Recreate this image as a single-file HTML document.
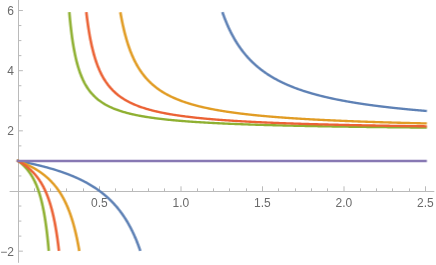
<!DOCTYPE html>
<html><head><meta charset="utf-8"><style>
html,body{margin:0;padding:0;background:#fff;}
svg{display:block}
text{font-family:"Liberation Sans",sans-serif;font-size:12px;fill:#6a6a6a;}
.lb{will-change:transform;filter:grayscale(1)}
.ax line{stroke:#bababa;stroke-width:1;}
.cv path{fill:none;stroke-width:2.35;stroke-linejoin:round;stroke-linecap:butt}
</style></head><body>
<svg width="436" height="265" viewBox="0 0 436 265">
<rect width="436" height="265" fill="#fff"/>
<g class="ax"><line x1="9.6" y1="191.5" x2="434.3" y2="191.5"/><line x1="18.5" y1="0" x2="18.5" y2="262.8"/><line x1="34.5" y1="191.5" x2="34.5" y2="188.4"/><line x1="50.5" y1="191.5" x2="50.5" y2="188.4"/><line x1="66.5" y1="191.5" x2="66.5" y2="188.4"/><line x1="83.5" y1="191.5" x2="83.5" y2="188.4"/><line x1="99.5" y1="191.5" x2="99.5" y2="186.3"/><line x1="115.5" y1="191.5" x2="115.5" y2="188.4"/><line x1="132.5" y1="191.5" x2="132.5" y2="188.4"/><line x1="148.5" y1="191.5" x2="148.5" y2="188.4"/><line x1="164.5" y1="191.5" x2="164.5" y2="188.4"/><line x1="181" y1="191.5" x2="181" y2="186.3"/><line x1="197.5" y1="191.5" x2="197.5" y2="188.4"/><line x1="213.5" y1="191.5" x2="213.5" y2="188.4"/><line x1="229.5" y1="191.5" x2="229.5" y2="188.4"/><line x1="246.5" y1="191.5" x2="246.5" y2="188.4"/><line x1="262.5" y1="191.5" x2="262.5" y2="186.3"/><line x1="278.5" y1="191.5" x2="278.5" y2="188.4"/><line x1="295.5" y1="191.5" x2="295.5" y2="188.4"/><line x1="311.5" y1="191.5" x2="311.5" y2="188.4"/><line x1="327.5" y1="191.5" x2="327.5" y2="188.4"/><line x1="344" y1="191.5" x2="344" y2="186.3"/><line x1="360.5" y1="191.5" x2="360.5" y2="188.4"/><line x1="376.5" y1="191.5" x2="376.5" y2="188.4"/><line x1="392.5" y1="191.5" x2="392.5" y2="188.4"/><line x1="409.5" y1="191.5" x2="409.5" y2="188.4"/><line x1="425.5" y1="191.5" x2="425.5" y2="186.3"/><line x1="18.5" y1="251.16" x2="22.9" y2="251.16"/><line x1="18.5" y1="236.12" x2="21.4" y2="236.12"/><line x1="18.5" y1="221.08" x2="21.4" y2="221.08"/><line x1="18.5" y1="206.04" x2="21.4" y2="206.04"/><line x1="18.5" y1="175.96" x2="21.4" y2="175.96"/><line x1="18.5" y1="160.92" x2="21.4" y2="160.92"/><line x1="18.5" y1="145.88" x2="21.4" y2="145.88"/><line x1="18.5" y1="130.84" x2="22.9" y2="130.84"/><line x1="18.5" y1="115.8" x2="21.4" y2="115.8"/><line x1="18.5" y1="100.76" x2="21.4" y2="100.76"/><line x1="18.5" y1="85.72" x2="21.4" y2="85.72"/><line x1="18.5" y1="70.68" x2="22.9" y2="70.68"/><line x1="18.5" y1="55.64" x2="21.4" y2="55.64"/><line x1="18.5" y1="40.6" x2="21.4" y2="40.6"/><line x1="18.5" y1="25.56" x2="21.4" y2="25.56"/><line x1="18.5" y1="10.52" x2="22.9" y2="10.52"/></g>
<g class="lb"><text x="99.30" y="206.5" text-anchor="middle">0.5</text><text x="180.80" y="206.5" text-anchor="middle">1.0</text><text x="262.30" y="206.5" text-anchor="middle">1.5</text><text x="343.80" y="206.5" text-anchor="middle">2.0</text><text x="425.30" y="206.5" text-anchor="middle">2.5</text><text x="14.0" y="14.50" text-anchor="end">6</text><text x="14.0" y="74.50" text-anchor="end">4</text><text x="14.0" y="134.50" text-anchor="end">2</text><text x="14.0" y="255.50" text-anchor="end">−2</text></g>
<g class="cv" transform="scale(1.12,1)"><path d="M15.067,160.77 L15.436,160.84 L15.805,160.92 L16.173,160.99 L16.542,161.07 L16.911,161.15 L17.279,161.22 L17.648,161.30 L18.017,161.38 L18.385,161.46 L18.754,161.54 L19.123,161.61 L19.491,161.69 L19.860,161.77 L20.229,161.85 L20.597,161.93 L20.966,162.02 L21.335,162.10 L21.703,162.18 L22.072,162.26 L22.441,162.35 L22.809,162.43 L23.178,162.51 L23.547,162.60 L23.915,162.68 L24.284,162.77 L24.652,162.85 L25.021,162.94 L25.390,163.02 L25.758,163.11 L26.127,163.20 L26.496,163.29 L26.864,163.38 L27.233,163.46 L27.602,163.55 L27.970,163.64 L28.339,163.73 L28.708,163.82 L29.076,163.92 L29.445,164.01 L29.814,164.10 L30.182,164.19 L30.551,164.29 L30.920,164.38 L31.288,164.47 L31.657,164.57 L32.026,164.67 L32.394,164.76 L32.763,164.86 L33.132,164.96 L33.500,165.05 L33.869,165.15 L34.238,165.25 L34.606,165.35 L34.975,165.45 L35.344,165.55 L35.712,165.65 L36.081,165.75 L36.450,165.86 L36.818,165.96 L37.187,166.06 L37.556,166.17 L37.924,166.27 L38.293,166.38 L38.662,166.48 L39.030,166.59 L39.399,166.70 L39.768,166.81 L40.136,166.91 L40.505,167.02 L40.874,167.13 L41.242,167.24 L41.611,167.36 L41.980,167.47 L42.348,167.58 L42.717,167.69 L43.086,167.81 L43.454,167.92 L43.823,168.04 L44.192,168.16 L44.560,168.27 L44.929,168.39 L45.298,168.51 L45.666,168.63 L46.035,168.75 L46.404,168.87 L46.772,168.99 L47.141,169.11 L47.510,169.24 L47.878,169.36 L48.247,169.49 L48.616,169.61 L48.984,169.74 L49.353,169.86 L49.722,169.99 L50.090,170.12 L50.459,170.25 L50.828,170.38 L51.196,170.51 L51.565,170.65 L51.933,170.78 L52.302,170.91 L52.671,171.05 L53.039,171.18 L53.408,171.32 L53.777,171.46 L54.145,171.60 L54.514,171.74 L54.883,171.88 L55.251,172.02 L55.620,172.16 L55.989,172.31 L56.357,172.45 L56.726,172.60 L57.095,172.74 L57.463,172.89 L57.832,173.04 L58.201,173.19 L58.569,173.34 L58.938,173.49 L59.307,173.65 L59.675,173.80 L60.044,173.96 L60.413,174.11 L60.781,174.27 L61.150,174.43 L61.519,174.59 L61.887,174.75 L62.256,174.91 L62.625,175.08 L62.993,175.24 L63.362,175.41 L63.731,175.57 L64.099,175.74 L64.468,175.91 L64.837,176.08 L65.205,176.26 L65.574,176.43 L65.943,176.60 L66.311,176.78 L66.680,176.96 L67.049,177.14 L67.417,177.32 L67.786,177.50 L68.155,177.68 L68.523,177.87 L68.892,178.06 L69.261,178.24 L69.629,178.43 L69.998,178.62 L70.367,178.82 L70.735,179.01 L71.104,179.20 L71.473,179.40 L71.841,179.60 L72.210,179.80 L72.579,180.00 L72.947,180.21 L73.316,180.41 L73.685,180.62 L74.053,180.83 L74.422,181.04 L74.791,181.25 L75.159,181.47 L75.528,181.68 L75.897,181.90 L76.265,182.12 L76.634,182.34 L77.003,182.56 L77.371,182.79 L77.740,183.02 L78.109,183.25 L78.477,183.48 L78.846,183.71 L79.214,183.95 L79.583,184.19 L79.952,184.43 L80.320,184.67 L80.689,184.91 L81.058,185.16 L81.426,185.41 L81.795,185.66 L82.164,185.91 L82.532,186.17 L82.901,186.43 L83.270,186.69 L83.638,186.95 L84.007,187.22 L84.376,187.48 L84.744,187.75 L85.113,188.03 L85.482,188.30 L85.850,188.58 L86.219,188.86 L86.588,189.15 L86.956,189.43 L87.325,189.72 L87.694,190.02 L88.062,190.31 L88.431,190.61 L88.800,190.91 L89.168,191.22 L89.537,191.53 L89.906,191.84 L90.274,192.15 L90.643,192.47 L91.012,192.79 L91.380,193.11 L91.749,193.44 L92.118,193.77 L92.486,194.10 L92.855,194.44 L93.224,194.78 L93.592,195.13 L93.961,195.48 L94.330,195.83 L94.698,196.19 L95.067,196.55 L95.436,196.91 L95.804,197.28 L96.173,197.66 L96.542,198.03 L96.910,198.41 L97.279,198.80 L97.648,199.19 L98.016,199.59 L98.385,199.98 L98.754,200.39 L99.122,200.80 L99.491,201.21 L99.860,201.63 L100.228,202.05 L100.597,202.48 L100.966,202.92 L101.334,203.36 L101.703,203.80 L102.072,204.25 L102.440,204.71 L102.809,205.17 L103.178,205.63 L103.546,206.11 L103.915,206.59 L104.284,207.07 L104.652,207.56 L105.021,208.06 L105.390,208.57 L105.758,209.08 L106.127,209.59 L106.495,210.12 L106.864,210.65 L107.233,211.19 L107.601,211.74 L107.970,212.29 L108.339,212.85 L108.707,213.42 L109.076,214.00 L109.445,214.58 L109.813,215.18 L110.182,215.78 L110.551,216.39 L110.919,217.01 L111.288,217.64 L111.657,218.28 L112.025,218.93 L112.394,219.58 L112.763,220.25 L113.131,220.93 L113.500,221.61 L113.869,222.31 L114.237,223.02 L114.606,223.74 L114.975,224.47 L115.343,225.22 L115.712,225.97 L116.081,226.74 L116.449,227.52 L116.818,228.31 L117.187,229.12 L117.555,229.93 L117.924,230.77 L118.293,231.61 L118.661,232.48 L119.030,233.35 L119.399,234.24 L119.767,235.15 L120.136,236.07 L120.505,237.01 L120.873,237.97 L121.242,238.94 L121.611,239.94 L121.979,240.95 L122.348,241.98 L122.717,243.02 L123.085,244.09 L123.454,245.18 L123.823,246.29 L124.191,247.43 L124.560,248.58 L124.929,249.76 L125.297,250.96" stroke="#5E81B5"/><path d="M198.600,12.21 L198.966,13.38 L199.332,14.53 L199.697,15.65 L200.063,16.75 L200.429,17.83 L200.795,18.89 L201.161,19.93 L201.527,20.95 L201.892,21.95 L202.258,22.94 L202.624,23.90 L202.990,24.85 L203.356,25.79 L203.722,26.70 L204.088,27.60 L204.453,28.49 L204.819,29.36 L205.185,30.21 L205.551,31.06 L205.917,31.88 L206.283,32.70 L206.648,33.50 L207.014,34.28 L207.380,35.06 L207.746,35.82 L208.112,36.57 L208.478,37.31 L208.843,38.04 L209.209,38.76 L209.575,39.46 L209.941,40.15 L210.307,40.84 L210.673,41.51 L211.039,42.18 L211.404,42.83 L211.770,43.47 L212.136,44.11 L212.502,44.74 L212.868,45.35 L213.234,45.96 L213.599,46.56 L213.965,47.15 L214.331,47.73 L214.697,48.31 L215.063,48.88 L215.429,49.44 L215.795,49.99 L216.160,50.53 L216.526,51.07 L216.892,51.60 L217.258,52.12 L217.624,52.64 L217.990,53.15 L218.355,53.65 L218.721,54.15 L219.087,54.64 L219.453,55.12 L219.819,55.60 L220.185,56.07 L220.550,56.54 L220.916,57.00 L221.282,57.45 L221.648,57.90 L222.014,58.34 L222.380,58.78 L222.746,59.21 L223.111,59.64 L223.477,60.06 L223.843,60.48 L224.209,60.89 L224.575,61.30 L224.941,61.70 L225.306,62.10 L225.672,62.50 L226.038,62.89 L226.404,63.27 L226.770,63.65 L227.136,64.03 L227.502,64.40 L227.867,64.77 L228.233,65.13 L228.599,65.49 L228.965,65.85 L229.331,66.20 L229.697,66.55 L230.062,66.90 L230.428,67.24 L230.794,67.57 L231.160,67.91 L231.526,68.24 L231.892,68.57 L232.257,68.89 L232.623,69.21 L232.989,69.53 L233.355,69.84 L233.721,70.15 L234.087,70.46 L234.453,70.76 L234.818,71.06 L235.184,71.36 L235.550,71.66 L235.916,71.95 L236.282,72.24 L236.648,72.53 L237.013,72.81 L237.379,73.09 L237.745,73.37 L238.111,73.65 L238.477,73.92 L238.843,74.19 L239.209,74.46 L239.574,74.72 L239.940,74.99 L240.306,75.25 L240.672,75.51 L241.038,75.76 L241.404,76.01 L241.769,76.27 L242.135,76.51 L242.501,76.76 L242.867,77.01 L243.233,77.25 L243.599,77.49 L243.965,77.73 L244.330,77.96 L244.696,78.19 L245.062,78.43 L245.428,78.66 L245.794,78.88 L246.160,79.11 L246.525,79.33 L246.891,79.55 L247.257,79.77 L247.623,79.99 L247.989,80.21 L248.355,80.42 L248.720,80.64 L249.086,80.85 L249.452,81.05 L249.818,81.26 L250.184,81.47 L250.550,81.67 L250.916,81.87 L251.281,82.07 L251.647,82.27 L252.013,82.47 L252.379,82.67 L252.745,82.86 L253.111,83.05 L253.476,83.24 L253.842,83.43 L254.208,83.62 L254.574,83.81 L254.940,83.99 L255.306,84.18 L255.672,84.36 L256.037,84.54 L256.403,84.72 L256.769,84.90 L257.135,85.07 L257.501,85.25 L257.867,85.42 L258.232,85.59 L258.598,85.77 L258.964,85.94 L259.330,86.10 L259.696,86.27 L260.062,86.44 L260.427,86.60 L260.793,86.77 L261.159,86.93 L261.525,87.09 L261.891,87.25 L262.257,87.41 L262.623,87.57 L262.988,87.72 L263.354,87.88 L263.720,88.03 L264.086,88.19 L264.452,88.34 L264.818,88.49 L265.183,88.64 L265.549,88.79 L265.915,88.94 L266.281,89.09 L266.647,89.23 L267.013,89.38 L267.379,89.52 L267.744,89.66 L268.110,89.81 L268.476,89.95 L268.842,90.09 L269.208,90.23 L269.574,90.36 L269.939,90.50 L270.305,90.64 L270.671,90.77 L271.037,90.91 L271.403,91.04 L271.769,91.17 L272.134,91.31 L272.500,91.44 L272.866,91.57 L273.232,91.70 L273.598,91.82 L273.964,91.95 L274.330,92.08 L274.695,92.20 L275.061,92.33 L275.427,92.45 L275.793,92.58 L276.159,92.70 L276.525,92.82 L276.890,92.94 L277.256,93.06 L277.622,93.18 L277.988,93.30 L278.354,93.42 L278.720,93.54 L279.086,93.65 L279.451,93.77 L279.817,93.88 L280.183,94.00 L280.549,94.11 L280.915,94.23 L281.281,94.34 L281.646,94.45 L282.012,94.56 L282.378,94.67 L282.744,94.78 L283.110,94.89 L283.476,95.00 L283.841,95.11 L284.207,95.21 L284.573,95.32 L284.939,95.43 L285.305,95.53 L285.671,95.63 L286.037,95.74 L286.402,95.84 L286.768,95.94 L287.134,96.05 L287.500,96.15 L287.866,96.25 L288.232,96.35 L288.597,96.45 L288.963,96.55 L289.329,96.65 L289.695,96.75 L290.061,96.84 L290.427,96.94 L290.793,97.04 L291.158,97.13 L291.524,97.23 L291.890,97.32 L292.256,97.42 L292.622,97.51 L292.988,97.60 L293.353,97.70 L293.719,97.79 L294.085,97.88 L294.451,97.97 L294.817,98.06 L295.183,98.15 L295.548,98.24 L295.914,98.33 L296.280,98.42 L296.646,98.51 L297.012,98.60 L297.378,98.68 L297.744,98.77 L298.109,98.86 L298.475,98.94 L298.841,99.03 L299.207,99.11 L299.573,99.20 L299.939,99.28 L300.304,99.36 L300.670,99.45 L301.036,99.53 L301.402,99.61 L301.768,99.69 L302.134,99.78 L302.500,99.86 L302.865,99.94 L303.231,100.02 L303.597,100.10 L303.963,100.18 L304.329,100.25 L304.695,100.33 L305.060,100.41 L305.426,100.49 L305.792,100.57 L306.158,100.64 L306.524,100.72 L306.890,100.80 L307.255,100.87 L307.621,100.95 L307.987,101.02 L308.353,101.10 L308.719,101.17 L309.085,101.25 L309.451,101.32 L309.816,101.39 L310.182,101.47 L310.548,101.54 L310.914,101.61 L311.280,101.68 L311.646,101.75 L312.011,101.82 L312.377,101.89 L312.743,101.96 L313.109,102.04 L313.475,102.10 L313.841,102.17 L314.207,102.24 L314.572,102.31 L314.938,102.38 L315.304,102.45 L315.670,102.52 L316.036,102.58 L316.402,102.65 L316.767,102.72 L317.133,102.78 L317.499,102.85 L317.865,102.92 L318.231,102.98 L318.597,103.05 L318.962,103.11 L319.328,103.18 L319.694,103.24 L320.060,103.30 L320.426,103.37 L320.792,103.43 L321.158,103.49 L321.523,103.56 L321.889,103.62 L322.255,103.68 L322.621,103.74 L322.987,103.81 L323.353,103.87 L323.718,103.93 L324.084,103.99 L324.450,104.05 L324.816,104.11 L325.182,104.17 L325.548,104.23 L325.914,104.29 L326.279,104.35 L326.645,104.41 L327.011,104.47 L327.377,104.53 L327.743,104.58 L328.109,104.64 L328.474,104.70 L328.840,104.76 L329.206,104.81 L329.572,104.87 L329.938,104.93 L330.304,104.98 L330.669,105.04 L331.035,105.10 L331.401,105.15 L331.767,105.21 L332.133,105.26 L332.499,105.32 L332.865,105.37 L333.230,105.43 L333.596,105.48 L333.962,105.54 L334.328,105.59 L334.694,105.64 L335.060,105.70 L335.425,105.75 L335.791,105.80 L336.157,105.85 L336.523,105.91 L336.889,105.96 L337.255,106.01 L337.621,106.06 L337.986,106.12 L338.352,106.17 L338.718,106.22 L339.084,106.27 L339.450,106.32 L339.816,106.37 L340.181,106.42 L340.547,106.47 L340.913,106.52 L341.279,106.57 L341.645,106.62 L342.011,106.67 L342.376,106.72 L342.742,106.77 L343.108,106.82 L343.474,106.86 L343.840,106.91 L344.206,106.96 L344.572,107.01 L344.937,107.06 L345.303,107.10 L345.669,107.15 L346.035,107.20 L346.401,107.25 L346.767,107.29 L347.132,107.34 L347.498,107.39 L347.864,107.43 L348.230,107.48 L348.596,107.52 L348.962,107.57 L349.328,107.62 L349.693,107.66 L350.059,107.71 L350.425,107.75 L350.791,107.80 L351.157,107.84 L351.523,107.89 L351.888,107.93 L352.254,107.97 L352.620,108.02 L352.986,108.06 L353.352,108.11 L353.718,108.15 L354.083,108.19 L354.449,108.24 L354.815,108.28 L355.181,108.32 L355.547,108.36 L355.913,108.41 L356.279,108.45 L356.644,108.49 L357.010,108.53 L357.376,108.58 L357.742,108.62 L358.108,108.66 L358.474,108.70 L358.839,108.74 L359.205,108.78 L359.571,108.82 L359.937,108.86 L360.303,108.91 L360.669,108.95 L361.035,108.99 L361.400,109.03 L361.766,109.07 L362.132,109.11 L362.498,109.15 L362.864,109.19 L363.230,109.23 L363.595,109.26 L363.961,109.30 L364.327,109.34 L364.693,109.38 L365.059,109.42 L365.425,109.46 L365.790,109.50 L366.156,109.54 L366.522,109.57 L366.888,109.61 L367.254,109.65 L367.620,109.69 L367.986,109.73 L368.351,109.76 L368.717,109.80 L369.083,109.84 L369.449,109.88 L369.815,109.91 L370.181,109.95 L370.546,109.99 L370.912,110.02 L371.278,110.06 L371.644,110.10 L372.010,110.13 L372.376,110.17 L372.742,110.20 L373.107,110.24 L373.473,110.28 L373.839,110.31 L374.205,110.35 L374.571,110.38 L374.937,110.42 L375.302,110.45 L375.668,110.49 L376.034,110.52 L376.400,110.56 L376.766,110.59 L377.132,110.63 L377.497,110.66 L377.863,110.70 L378.229,110.73 L378.595,110.76 L378.961,110.80 L379.327,110.83 L379.693,110.87 L380.058,110.90 L380.424,110.93 L380.790,110.97 L381.156,111.00" stroke="#5E81B5"/><path d="M15.067,160.52 L15.254,160.59 L15.440,160.67 L15.626,160.74 L15.813,160.82 L15.999,160.89 L16.186,160.97 L16.372,161.05 L16.558,161.13 L16.745,161.20 L16.931,161.28 L17.118,161.36 L17.304,161.44 L17.490,161.52 L17.677,161.60 L17.863,161.68 L18.050,161.76 L18.236,161.84 L18.422,161.92 L18.609,162.00 L18.795,162.09 L18.982,162.17 L19.168,162.25 L19.354,162.34 L19.541,162.42 L19.727,162.51 L19.914,162.59 L20.100,162.68 L20.286,162.76 L20.473,162.85 L20.659,162.94 L20.846,163.02 L21.032,163.11 L21.218,163.20 L21.405,163.29 L21.591,163.38 L21.778,163.47 L21.964,163.56 L22.150,163.65 L22.337,163.74 L22.523,163.83 L22.710,163.93 L22.896,164.02 L23.082,164.11 L23.269,164.21 L23.455,164.30 L23.642,164.40 L23.828,164.49 L24.014,164.59 L24.201,164.68 L24.387,164.78 L24.574,164.88 L24.760,164.98 L24.946,165.08 L25.133,165.18 L25.319,165.28 L25.506,165.38 L25.692,165.48 L25.878,165.58 L26.065,165.68 L26.251,165.79 L26.438,165.89 L26.624,165.99 L26.810,166.10 L26.997,166.21 L27.183,166.31 L27.370,166.42 L27.556,166.53 L27.742,166.63 L27.929,166.74 L28.115,166.85 L28.302,166.96 L28.488,167.07 L28.674,167.19 L28.861,167.30 L29.047,167.41 L29.234,167.52 L29.420,167.64 L29.606,167.75 L29.793,167.87 L29.979,167.99 L30.166,168.10 L30.352,168.22 L30.538,168.34 L30.725,168.46 L30.911,168.58 L31.098,168.70 L31.284,168.82 L31.470,168.95 L31.657,169.07 L31.843,169.19 L32.030,169.32 L32.216,169.45 L32.402,169.57 L32.589,169.70 L32.775,169.83 L32.962,169.96 L33.148,170.09 L33.334,170.22 L33.521,170.35 L33.707,170.48 L33.894,170.62 L34.080,170.75 L34.266,170.89 L34.453,171.02 L34.639,171.16 L34.826,171.30 L35.012,171.44 L35.198,171.58 L35.385,171.72 L35.571,171.86 L35.758,172.01 L35.944,172.15 L36.130,172.29 L36.317,172.44 L36.503,172.59 L36.689,172.74 L36.876,172.89 L37.062,173.04 L37.249,173.19 L37.435,173.34 L37.621,173.49 L37.808,173.65 L37.994,173.81 L38.181,173.96 L38.367,174.12 L38.553,174.28 L38.740,174.44 L38.926,174.60 L39.113,174.77 L39.299,174.93 L39.485,175.10 L39.672,175.26 L39.858,175.43 L40.045,175.60 L40.231,175.77 L40.417,175.94 L40.604,176.12 L40.790,176.29 L40.977,176.47 L41.163,176.64 L41.349,176.82 L41.536,177.00 L41.722,177.18 L41.909,177.37 L42.095,177.55 L42.281,177.74 L42.468,177.92 L42.654,178.11 L42.841,178.30 L43.027,178.49 L43.213,178.69 L43.400,178.88 L43.586,179.08 L43.773,179.28 L43.959,179.48 L44.145,179.68 L44.332,179.88 L44.518,180.09 L44.705,180.29 L44.891,180.50 L45.077,180.71 L45.264,180.93 L45.450,181.14 L45.637,181.35 L45.823,181.57 L46.009,181.79 L46.196,182.01 L46.382,182.24 L46.569,182.46 L46.755,182.69 L46.941,182.92 L47.128,183.15 L47.314,183.38 L47.501,183.62 L47.687,183.86 L47.873,184.10 L48.060,184.34 L48.246,184.58 L48.433,184.83 L48.619,185.08 L48.805,185.33 L48.992,185.58 L49.178,185.84 L49.365,186.09 L49.551,186.35 L49.737,186.62 L49.924,186.88 L50.110,187.15 L50.297,187.42 L50.483,187.69 L50.669,187.97 L50.856,188.25 L51.042,188.53 L51.229,188.81 L51.415,189.10 L51.601,189.39 L51.788,189.68 L51.974,189.98 L52.161,190.28 L52.347,190.58 L52.533,190.88 L52.720,191.19 L52.906,191.50 L53.093,191.82 L53.279,192.13 L53.465,192.45 L53.652,192.78 L53.838,193.11 L54.025,193.44 L54.211,193.77 L54.397,194.11 L54.584,194.45 L54.770,194.80 L54.957,195.15 L55.143,195.50 L55.329,195.86 L55.516,196.22 L55.702,196.58 L55.889,196.95 L56.075,197.33 L56.261,197.70 L56.448,198.08 L56.634,198.47 L56.821,198.86 L57.007,199.26 L57.193,199.66 L57.380,200.06 L57.566,200.47 L57.753,200.89 L57.939,201.31 L58.125,201.73 L58.312,202.16 L58.498,202.59 L58.685,203.03 L58.871,203.48 L59.057,203.93 L59.244,204.39 L59.430,204.85 L59.617,205.32 L59.803,205.79 L59.989,206.27 L60.176,206.76 L60.362,207.25 L60.549,207.75 L60.735,208.26 L60.921,208.77 L61.108,209.29 L61.294,209.82 L61.480,210.35 L61.667,210.89 L61.853,211.44 L62.040,212.00 L62.226,212.56 L62.412,213.13 L62.599,213.71 L62.785,214.30 L62.972,214.90 L63.158,215.50 L63.344,216.12 L63.531,216.74 L63.717,217.37 L63.904,218.01 L64.090,218.66 L64.276,219.32 L64.463,219.99 L64.649,220.67 L64.836,221.37 L65.022,222.07 L65.208,222.78 L65.395,223.51 L65.581,224.24 L65.768,224.99 L65.954,225.75 L66.140,226.52 L66.327,227.31 L66.513,228.10 L66.700,228.92 L66.886,229.74 L67.072,230.58 L67.259,231.43 L67.445,232.30 L67.632,233.18 L67.818,234.08 L68.004,235.00 L68.191,235.93 L68.377,236.88 L68.564,237.84 L68.750,238.82 L68.936,239.82 L69.123,240.84 L69.309,241.88 L69.496,242.94 L69.682,244.02 L69.868,245.12 L70.055,246.24 L70.241,247.39 L70.428,248.55 L70.614,249.74 L70.800,250.96" stroke="#E19C24"/><path d="M107.452,12.21 L108.000,15.65 L108.549,18.89 L109.097,21.95 L109.646,24.85 L110.194,27.60 L110.743,30.21 L111.291,32.69 L111.840,35.05 L112.388,37.30 L112.937,39.45 L113.485,41.50 L114.034,43.46 L114.582,45.34 L115.131,47.14 L115.679,48.86 L116.228,50.52 L116.776,52.11 L117.325,53.64 L117.873,55.11 L118.422,56.52 L118.970,57.89 L119.519,59.20 L120.067,60.47 L120.616,61.69 L121.164,62.87 L121.713,64.02 L122.261,65.12 L122.810,66.19 L123.358,67.22 L123.907,68.22 L124.455,69.20 L125.004,70.14 L125.552,71.05 L126.101,71.94 L126.649,72.80 L127.198,73.63 L127.746,74.44 L128.295,75.23 L128.843,76.00 L129.392,76.75 L129.940,77.47 L130.489,78.18 L131.037,78.87 L131.586,79.54 L132.134,80.19 L132.683,80.83 L133.231,81.45 L133.780,82.06 L134.328,82.65 L134.877,83.23 L135.425,83.79 L135.974,84.34 L136.523,84.88 L137.071,85.41 L137.620,85.92 L138.168,86.43 L138.717,86.92 L139.265,87.40 L139.814,87.87 L140.362,88.33 L140.911,88.78 L141.459,89.22 L142.008,89.65 L142.556,90.07 L143.105,90.49 L143.653,90.89 L144.202,91.29 L144.750,91.68 L145.299,92.07 L145.847,92.44 L146.396,92.81 L146.944,93.17 L147.493,93.52 L148.041,93.87 L148.590,94.21 L149.138,94.55 L149.687,94.88 L150.235,95.20 L150.784,95.52 L151.332,95.83 L151.881,96.14 L152.429,96.44 L152.978,96.73 L153.526,97.02 L154.075,97.31 L154.623,97.59 L155.172,97.87 L155.720,98.14 L156.269,98.41 L156.817,98.67 L157.366,98.93 L157.914,99.19 L158.463,99.44 L159.011,99.68 L159.560,99.93 L160.108,100.17 L160.657,100.40 L161.205,100.63 L161.754,100.86 L162.302,101.09 L162.851,101.31 L163.399,101.53 L163.948,101.74 L164.496,101.95 L165.045,102.16 L165.593,102.37 L166.142,102.57 L166.690,102.77 L167.239,102.97 L167.787,103.17 L168.336,103.36 L168.884,103.55 L169.433,103.73 L169.981,103.92 L170.530,104.10 L171.078,104.28 L171.627,104.46 L172.175,104.63 L172.724,104.80 L173.272,104.97 L173.821,105.14 L174.369,105.31 L174.918,105.47 L175.466,105.63 L176.015,105.79 L176.563,105.95 L177.112,106.11 L177.660,106.26 L178.209,106.41 L178.757,106.56 L179.306,106.71 L179.854,106.86 L180.403,107.00 L180.951,107.14 L181.500,107.28 L182.048,107.42 L182.597,107.56 L183.145,107.70 L183.694,107.83 L184.242,107.97 L184.791,108.10 L185.339,108.23 L185.888,108.36 L186.437,108.48 L186.985,108.61 L187.534,108.73 L188.082,108.86 L188.631,108.98 L189.179,109.10 L189.728,109.22 L190.276,109.33 L190.825,109.45 L191.373,109.57 L191.922,109.68 L192.470,109.79 L193.019,109.90 L193.567,110.01 L194.116,110.12 L194.664,110.23 L195.213,110.34 L195.761,110.45 L196.310,110.55 L196.858,110.65 L197.407,110.76 L197.955,110.86 L198.504,110.96 L199.052,111.06 L199.601,111.16 L200.149,111.25 L200.698,111.35 L201.246,111.45 L201.795,111.54 L202.343,111.64 L202.892,111.73 L203.440,111.82 L203.989,111.91 L204.537,112.00 L205.086,112.09 L205.634,112.18 L206.183,112.27 L206.731,112.36 L207.280,112.44 L207.828,112.53 L208.377,112.61 L208.925,112.70 L209.474,112.78 L210.022,112.86 L210.571,112.94 L211.119,113.02 L211.668,113.10 L212.216,113.18 L212.765,113.26 L213.313,113.34 L213.862,113.42 L214.410,113.49 L214.959,113.57 L215.507,113.64 L216.056,113.72 L216.604,113.79 L217.153,113.87 L217.701,113.94 L218.250,114.01 L218.798,114.08 L219.347,114.15 L219.895,114.22 L220.444,114.29 L220.992,114.36 L221.541,114.43 L222.089,114.50 L222.638,114.57 L223.186,114.63 L223.735,114.70 L224.283,114.77 L224.832,114.83 L225.380,114.90 L225.929,114.96 L226.477,115.03 L227.026,115.09 L227.574,115.15 L228.123,115.21 L228.671,115.28 L229.220,115.34 L229.768,115.40 L230.317,115.46 L230.865,115.52 L231.414,115.58 L231.962,115.64 L232.511,115.69 L233.059,115.75 L233.608,115.81 L234.156,115.87 L234.705,115.92 L235.253,115.98 L235.802,116.04 L236.350,116.09 L236.899,116.15 L237.448,116.20 L237.996,116.26 L238.545,116.31 L239.093,116.36 L239.642,116.42 L240.190,116.47 L240.739,116.52 L241.287,116.57 L241.836,116.62 L242.384,116.68 L242.933,116.73 L243.481,116.78 L244.030,116.83 L244.578,116.88 L245.127,116.93 L245.675,116.98 L246.224,117.02 L246.772,117.07 L247.321,117.12 L247.869,117.17 L248.418,117.22 L248.966,117.26 L249.515,117.31 L250.063,117.36 L250.612,117.40 L251.160,117.45 L251.709,117.49 L252.257,117.54 L252.806,117.58 L253.354,117.63 L253.903,117.67 L254.451,117.72 L255.000,117.76 L255.548,117.80 L256.097,117.85 L256.645,117.89 L257.194,117.93 L257.742,117.97 L258.291,118.02 L258.839,118.06 L259.388,118.10 L259.936,118.14 L260.485,118.18 L261.033,118.22 L261.582,118.26 L262.130,118.30 L262.679,118.34 L263.227,118.38 L263.776,118.42 L264.324,118.46 L264.873,118.50 L265.421,118.54 L265.970,118.58 L266.518,118.62 L267.067,118.65 L267.615,118.69 L268.164,118.73 L268.712,118.77 L269.261,118.80 L269.809,118.84 L270.358,118.88 L270.906,118.91 L271.455,118.95 L272.003,118.98 L272.552,119.02 L273.100,119.06 L273.649,119.09 L274.197,119.13 L274.746,119.16 L275.294,119.20 L275.843,119.23 L276.391,119.26 L276.940,119.30 L277.488,119.33 L278.037,119.37 L278.585,119.40 L279.134,119.43 L279.682,119.47 L280.231,119.50 L280.779,119.53 L281.328,119.56 L281.876,119.60 L282.425,119.63 L282.973,119.66 L283.522,119.69 L284.070,119.72 L284.619,119.76 L285.167,119.79 L285.716,119.82 L286.264,119.85 L286.813,119.88 L287.362,119.91 L287.910,119.94 L288.459,119.97 L289.007,120.00 L289.556,120.03 L290.104,120.06 L290.653,120.09 L291.201,120.12 L291.750,120.15 L292.298,120.18 L292.847,120.21 L293.395,120.24 L293.944,120.26 L294.492,120.29 L295.041,120.32 L295.589,120.35 L296.138,120.38 L296.686,120.41 L297.235,120.43 L297.783,120.46 L298.332,120.49 L298.880,120.52 L299.429,120.54 L299.977,120.57 L300.526,120.60 L301.074,120.62 L301.623,120.65 L302.171,120.68 L302.720,120.70 L303.268,120.73 L303.817,120.76 L304.365,120.78 L304.914,120.81 L305.462,120.83 L306.011,120.86 L306.559,120.88 L307.108,120.91 L307.656,120.93 L308.205,120.96 L308.753,120.98 L309.302,121.01 L309.850,121.03 L310.399,121.06 L310.947,121.08 L311.496,121.11 L312.044,121.13 L312.593,121.16 L313.141,121.18 L313.690,121.20 L314.238,121.23 L314.787,121.25 L315.335,121.27 L315.884,121.30 L316.432,121.32 L316.981,121.34 L317.529,121.37 L318.078,121.39 L318.626,121.41 L319.175,121.44 L319.723,121.46 L320.272,121.48 L320.820,121.50 L321.369,121.52 L321.917,121.55 L322.466,121.57 L323.014,121.59 L323.563,121.61 L324.111,121.63 L324.660,121.66 L325.208,121.68 L325.757,121.70 L326.305,121.72 L326.854,121.74 L327.402,121.76 L327.951,121.78 L328.499,121.81 L329.048,121.83 L329.596,121.85 L330.145,121.87 L330.693,121.89 L331.242,121.91 L331.790,121.93 L332.339,121.95 L332.887,121.97 L333.436,121.99 L333.984,122.01 L334.533,122.03 L335.081,122.05 L335.630,122.07 L336.178,122.09 L336.727,122.11 L337.276,122.13 L337.824,122.15 L338.373,122.17 L338.921,122.19 L339.470,122.21 L340.018,122.22 L340.567,122.24 L341.115,122.26 L341.664,122.28 L342.212,122.30 L342.761,122.32 L343.309,122.34 L343.858,122.36 L344.406,122.37 L344.955,122.39 L345.503,122.41 L346.052,122.43 L346.600,122.45 L347.149,122.47 L347.697,122.48 L348.246,122.50 L348.794,122.52 L349.343,122.54 L349.891,122.55 L350.440,122.57 L350.988,122.59 L351.537,122.61 L352.085,122.62 L352.634,122.64 L353.182,122.66 L353.731,122.68 L354.279,122.69 L354.828,122.71 L355.376,122.73 L355.925,122.74 L356.473,122.76 L357.022,122.78 L357.570,122.79 L358.119,122.81 L358.667,122.83 L359.216,122.84 L359.764,122.86 L360.313,122.88 L360.861,122.89 L361.410,122.91 L361.958,122.93 L362.507,122.94 L363.055,122.96 L363.604,122.97 L364.152,122.99 L364.701,123.00 L365.249,123.02 L365.798,123.04 L366.346,123.05 L366.895,123.07 L367.443,123.08 L367.992,123.10 L368.540,123.11 L369.089,123.13 L369.637,123.14 L370.186,123.16 L370.734,123.17 L371.283,123.19 L371.831,123.20 L372.380,123.22 L372.928,123.23 L373.477,123.25 L374.025,123.26 L374.574,123.28 L375.122,123.29 L375.671,123.31 L376.219,123.32 L376.768,123.34 L377.316,123.35 L377.865,123.37 L378.413,123.38 L378.962,123.40 L379.510,123.41 L380.059,123.42 L380.607,123.44 L381.156,123.45" stroke="#E19C24"/><path d="M15.067,160.03 L15.163,160.10 L15.258,160.18 L15.353,160.25 L15.448,160.33 L15.544,160.40 L15.639,160.48 L15.734,160.56 L15.829,160.63 L15.925,160.71 L16.020,160.79 L16.115,160.86 L16.210,160.94 L16.306,161.02 L16.401,161.10 L16.496,161.18 L16.592,161.26 L16.687,161.34 L16.782,161.42 L16.877,161.50 L16.973,161.58 L17.068,161.67 L17.163,161.75 L17.258,161.83 L17.354,161.91 L17.449,162.00 L17.544,162.08 L17.639,162.17 L17.735,162.25 L17.830,162.34 L17.925,162.42 L18.021,162.51 L18.116,162.60 L18.211,162.69 L18.306,162.77 L18.402,162.86 L18.497,162.95 L18.592,163.04 L18.687,163.13 L18.783,163.22 L18.878,163.31 L18.973,163.40 L19.068,163.50 L19.164,163.59 L19.259,163.68 L19.354,163.77 L19.450,163.87 L19.545,163.96 L19.640,164.06 L19.735,164.15 L19.831,164.25 L19.926,164.35 L20.021,164.45 L20.116,164.54 L20.212,164.64 L20.307,164.74 L20.402,164.84 L20.497,164.94 L20.593,165.04 L20.688,165.14 L20.783,165.25 L20.879,165.35 L20.974,165.45 L21.069,165.56 L21.164,165.66 L21.260,165.77 L21.355,165.87 L21.450,165.98 L21.545,166.09 L21.641,166.19 L21.736,166.30 L21.831,166.41 L21.926,166.52 L22.022,166.63 L22.117,166.74 L22.212,166.86 L22.308,166.97 L22.403,167.08 L22.498,167.20 L22.593,167.31 L22.689,167.43 L22.784,167.54 L22.879,167.66 L22.974,167.78 L23.070,167.90 L23.165,168.02 L23.260,168.14 L23.355,168.26 L23.451,168.38 L23.546,168.50 L23.641,168.62 L23.737,168.75 L23.832,168.87 L23.927,169.00 L24.022,169.13 L24.118,169.25 L24.213,169.38 L24.308,169.51 L24.403,169.64 L24.499,169.77 L24.594,169.90 L24.689,170.04 L24.784,170.17 L24.880,170.30 L24.975,170.44 L25.070,170.58 L25.166,170.71 L25.261,170.85 L25.356,170.99 L25.451,171.13 L25.547,171.27 L25.642,171.41 L25.737,171.56 L25.832,171.70 L25.928,171.85 L26.023,171.99 L26.118,172.14 L26.213,172.29 L26.309,172.44 L26.404,172.59 L26.499,172.74 L26.595,172.89 L26.690,173.05 L26.785,173.20 L26.880,173.36 L26.976,173.52 L27.071,173.67 L27.166,173.83 L27.261,173.99 L27.357,174.16 L27.452,174.32 L27.547,174.48 L27.642,174.65 L27.738,174.82 L27.833,174.99 L27.928,175.16 L28.024,175.33 L28.119,175.50 L28.214,175.67 L28.309,175.85 L28.405,176.02 L28.500,176.20 L28.595,176.38 L28.690,176.56 L28.786,176.74 L28.881,176.93 L28.976,177.11 L29.071,177.30 L29.167,177.49 L29.262,177.68 L29.357,177.87 L29.453,178.06 L29.548,178.25 L29.643,178.45 L29.738,178.65 L29.834,178.85 L29.929,179.05 L30.024,179.25 L30.119,179.45 L30.215,179.66 L30.310,179.87 L30.405,180.08 L30.500,180.29 L30.596,180.50 L30.691,180.71 L30.786,180.93 L30.882,181.15 L30.977,181.37 L31.072,181.59 L31.167,181.82 L31.263,182.04 L31.358,182.27 L31.453,182.50 L31.548,182.74 L31.644,182.97 L31.739,183.21 L31.834,183.45 L31.929,183.69 L32.025,183.93 L32.120,184.18 L32.215,184.42 L32.311,184.68 L32.406,184.93 L32.501,185.18 L32.596,185.44 L32.692,185.70 L32.787,185.96 L32.882,186.23 L32.977,186.50 L33.073,186.77 L33.168,187.04 L33.263,187.31 L33.358,187.59 L33.454,187.87 L33.549,188.16 L33.644,188.44 L33.740,188.73 L33.835,189.02 L33.930,189.32 L34.025,189.62 L34.121,189.92 L34.216,190.22 L34.311,190.53 L34.406,190.84 L34.502,191.16 L34.597,191.47 L34.692,191.80 L34.787,192.12 L34.883,192.45 L34.978,192.78 L35.073,193.11 L35.169,193.45 L35.264,193.79 L35.359,194.14 L35.454,194.49 L35.550,194.84 L35.645,195.20 L35.740,195.56 L35.835,195.93 L35.931,196.30 L36.026,196.67 L36.121,197.05 L36.216,197.43 L36.312,197.82 L36.407,198.21 L36.502,198.61 L36.598,199.01 L36.693,199.42 L36.788,199.83 L36.883,200.24 L36.979,200.67 L37.074,201.09 L37.169,201.52 L37.264,201.96 L37.360,202.40 L37.455,202.85 L37.550,203.30 L37.645,203.76 L37.741,204.23 L37.836,204.70 L37.931,205.17 L38.027,205.66 L38.122,206.15 L38.217,206.64 L38.312,207.14 L38.408,207.65 L38.503,208.17 L38.598,208.69 L38.693,209.22 L38.789,209.76 L38.884,210.31 L38.979,210.86 L39.074,211.42 L39.170,211.99 L39.265,212.56 L39.360,213.15 L39.456,213.74 L39.551,214.34 L39.646,214.95 L39.741,215.57 L39.837,216.20 L39.932,216.84 L40.027,217.48 L40.122,218.14 L40.218,218.81 L40.313,219.49 L40.408,220.18 L40.503,220.87 L40.599,221.58 L40.694,222.31 L40.789,223.04 L40.885,223.78 L40.980,224.54 L41.075,225.31 L41.170,226.09 L41.266,226.89 L41.361,227.70 L41.456,228.52 L41.551,229.35 L41.647,230.21 L41.742,231.07 L41.837,231.95 L41.932,232.85 L42.028,233.76 L42.123,234.69 L42.218,235.64 L42.314,236.60 L42.409,237.58 L42.504,238.58 L42.599,239.60 L42.695,240.64 L42.790,241.70 L42.885,242.78 L42.980,243.88 L43.076,245.00 L43.171,246.14 L43.266,247.31 L43.361,248.50 L43.457,249.72 L43.552,250.96" stroke="#8FB032"/><path d="M61.878,12.21 L62.517,19.92 L63.157,26.69 L63.797,32.69 L64.437,38.03 L65.077,42.82 L65.717,47.14 L66.356,51.05 L66.996,54.62 L67.636,57.88 L68.276,60.88 L68.916,63.63 L69.556,66.18 L70.196,68.55 L70.835,70.74 L71.475,72.79 L72.115,74.71 L72.755,76.50 L73.395,78.18 L74.035,79.76 L74.674,81.24 L75.314,82.65 L75.954,83.98 L76.594,85.23 L77.234,86.42 L77.874,87.55 L78.513,88.63 L79.153,89.65 L79.793,90.62 L80.433,91.55 L81.073,92.44 L81.713,93.29 L82.352,94.10 L82.992,94.87 L83.632,95.62 L84.272,96.33 L84.912,97.02 L85.552,97.68 L86.191,98.32 L86.831,98.93 L87.471,99.52 L88.111,100.08 L88.751,100.63 L89.391,101.16 L90.030,101.67 L90.670,102.16 L91.310,102.64 L91.950,103.10 L92.590,103.54 L93.230,103.98 L93.869,104.40 L94.509,104.80 L95.149,105.19 L95.789,105.58 L96.429,105.95 L97.069,106.31 L97.708,106.66 L98.348,107.00 L98.988,107.33 L99.628,107.65 L100.268,107.96 L100.908,108.27 L101.547,108.56 L102.187,108.85 L102.827,109.14 L103.467,109.41 L104.107,109.68 L104.747,109.94 L105.387,110.19 L106.026,110.44 L106.666,110.69 L107.306,110.92 L107.946,111.15 L108.586,111.38 L109.226,111.60 L109.865,111.82 L110.505,112.03 L111.145,112.24 L111.785,112.44 L112.425,112.64 L113.065,112.83 L113.704,113.02 L114.344,113.21 L114.984,113.39 L115.624,113.57 L116.264,113.74 L116.904,113.91 L117.543,114.08 L118.183,114.25 L118.823,114.41 L119.463,114.57 L120.103,114.72 L120.743,114.87 L121.382,115.02 L122.022,115.17 L122.662,115.31 L123.302,115.46 L123.942,115.59 L124.582,115.73 L125.221,115.87 L125.861,116.00 L126.501,116.13 L127.141,116.25 L127.781,116.38 L128.421,116.50 L129.060,116.62 L129.700,116.74 L130.340,116.86 L130.980,116.97 L131.620,117.09 L132.260,117.20 L132.899,117.31 L133.539,117.42 L134.179,117.52 L134.819,117.63 L135.459,117.73 L136.099,117.83 L136.738,117.93 L137.378,118.03 L138.018,118.13 L138.658,118.22 L139.298,118.31 L139.938,118.41 L140.578,118.50 L141.217,118.59 L141.857,118.68 L142.497,118.76 L143.137,118.85 L143.777,118.94 L144.417,119.02 L145.056,119.10 L145.696,119.18 L146.336,119.26 L146.976,119.34 L147.616,119.42 L148.256,119.50 L148.895,119.57 L149.535,119.65 L150.175,119.72 L150.815,119.80 L151.455,119.87 L152.095,119.94 L152.734,120.01 L153.374,120.08 L154.014,120.15 L154.654,120.22 L155.294,120.28 L155.934,120.35 L156.573,120.41 L157.213,120.48 L157.853,120.54 L158.493,120.60 L159.133,120.67 L159.773,120.73 L160.412,120.79 L161.052,120.85 L161.692,120.91 L162.332,120.97 L162.972,121.02 L163.612,121.08 L164.251,121.14 L164.891,121.19 L165.531,121.25 L166.171,121.30 L166.811,121.36 L167.451,121.41 L168.090,121.46 L168.730,121.52 L169.370,121.57 L170.010,121.62 L170.650,121.67 L171.290,121.72 L171.929,121.77 L172.569,121.82 L173.209,121.87 L173.849,121.91 L174.489,121.96 L175.129,122.01 L175.768,122.06 L176.408,122.10 L177.048,122.15 L177.688,122.19 L178.328,122.24 L178.968,122.28 L179.608,122.32 L180.247,122.37 L180.887,122.41 L181.527,122.45 L182.167,122.49 L182.807,122.54 L183.447,122.58 L184.086,122.62 L184.726,122.66 L185.366,122.70 L186.006,122.74 L186.646,122.78 L187.286,122.82 L187.925,122.85 L188.565,122.89 L189.205,122.93 L189.845,122.97 L190.485,123.00 L191.125,123.04 L191.764,123.08 L192.404,123.11 L193.044,123.15 L193.684,123.18 L194.324,123.22 L194.964,123.25 L195.603,123.29 L196.243,123.32 L196.883,123.36 L197.523,123.39 L198.163,123.42 L198.803,123.46 L199.442,123.49 L200.082,123.52 L200.722,123.55 L201.362,123.58 L202.002,123.62 L202.642,123.65 L203.281,123.68 L203.921,123.71 L204.561,123.74 L205.201,123.77 L205.841,123.80 L206.481,123.83 L207.120,123.86 L207.760,123.89 L208.400,123.92 L209.040,123.95 L209.680,123.97 L210.320,124.00 L210.959,124.03 L211.599,124.06 L212.239,124.09 L212.879,124.11 L213.519,124.14 L214.159,124.17 L214.799,124.19 L215.438,124.22 L216.078,124.25 L216.718,124.27 L217.358,124.30 L217.998,124.32 L218.638,124.35 L219.277,124.38 L219.917,124.40 L220.557,124.43 L221.197,124.45 L221.837,124.47 L222.477,124.50 L223.116,124.52 L223.756,124.55 L224.396,124.57 L225.036,124.59 L225.676,124.62 L226.316,124.64 L226.955,124.66 L227.595,124.69 L228.235,124.71 L228.875,124.73 L229.515,124.76 L230.155,124.78 L230.794,124.80 L231.434,124.82 L232.074,124.84 L232.714,124.87 L233.354,124.89 L233.994,124.91 L234.633,124.93 L235.273,124.95 L235.913,124.97 L236.553,124.99 L237.193,125.01 L237.833,125.03 L238.472,125.05 L239.112,125.07 L239.752,125.09 L240.392,125.11 L241.032,125.13 L241.672,125.15 L242.311,125.17 L242.951,125.19 L243.591,125.21 L244.231,125.23 L244.871,125.25 L245.511,125.27 L246.150,125.29 L246.790,125.31 L247.430,125.32 L248.070,125.34 L248.710,125.36 L249.350,125.38 L249.990,125.40 L250.629,125.41 L251.269,125.43 L251.909,125.45 L252.549,125.47 L253.189,125.49 L253.829,125.50 L254.468,125.52 L255.108,125.54 L255.748,125.55 L256.388,125.57 L257.028,125.59 L257.668,125.60 L258.307,125.62 L258.947,125.64 L259.587,125.65 L260.227,125.67 L260.867,125.69 L261.507,125.70 L262.146,125.72 L262.786,125.73 L263.426,125.75 L264.066,125.77 L264.706,125.78 L265.346,125.80 L265.985,125.81 L266.625,125.83 L267.265,125.84 L267.905,125.86 L268.545,125.87 L269.185,125.89 L269.824,125.90 L270.464,125.92 L271.104,125.93 L271.744,125.95 L272.384,125.96 L273.024,125.98 L273.663,125.99 L274.303,126.01 L274.943,126.02 L275.583,126.03 L276.223,126.05 L276.863,126.06 L277.502,126.08 L278.142,126.09 L278.782,126.10 L279.422,126.12 L280.062,126.13 L280.702,126.14 L281.341,126.16 L281.981,126.17 L282.621,126.18 L283.261,126.20 L283.901,126.21 L284.541,126.22 L285.180,126.24 L285.820,126.25 L286.460,126.26 L287.100,126.27 L287.740,126.29 L288.380,126.30 L289.020,126.31 L289.659,126.32 L290.299,126.34 L290.939,126.35 L291.579,126.36 L292.219,126.37 L292.859,126.39 L293.498,126.40 L294.138,126.41 L294.778,126.42 L295.418,126.43 L296.058,126.45 L296.698,126.46 L297.337,126.47 L297.977,126.48 L298.617,126.49 L299.257,126.50 L299.897,126.52 L300.537,126.53 L301.176,126.54 L301.816,126.55 L302.456,126.56 L303.096,126.57 L303.736,126.58 L304.376,126.59 L305.015,126.61 L305.655,126.62 L306.295,126.63 L306.935,126.64 L307.575,126.65 L308.215,126.66 L308.854,126.67 L309.494,126.68 L310.134,126.69 L310.774,126.70 L311.414,126.71 L312.054,126.72 L312.693,126.73 L313.333,126.74 L313.973,126.75 L314.613,126.76 L315.253,126.77 L315.893,126.78 L316.532,126.79 L317.172,126.80 L317.812,126.81 L318.452,126.82 L319.092,126.83 L319.732,126.84 L320.371,126.85 L321.011,126.86 L321.651,126.87 L322.291,126.88 L322.931,126.89 L323.571,126.90 L324.211,126.91 L324.850,126.92 L325.490,126.93 L326.130,126.94 L326.770,126.95 L327.410,126.96 L328.050,126.97 L328.689,126.98 L329.329,126.99 L329.969,127.00 L330.609,127.00 L331.249,127.01 L331.889,127.02 L332.528,127.03 L333.168,127.04 L333.808,127.05 L334.448,127.06 L335.088,127.07 L335.728,127.08 L336.367,127.08 L337.007,127.09 L337.647,127.10 L338.287,127.11 L338.927,127.12 L339.567,127.13 L340.206,127.14 L340.846,127.14 L341.486,127.15 L342.126,127.16 L342.766,127.17 L343.406,127.18 L344.045,127.19 L344.685,127.19 L345.325,127.20 L345.965,127.21 L346.605,127.22 L347.245,127.23 L347.884,127.24 L348.524,127.24 L349.164,127.25 L349.804,127.26 L350.444,127.27 L351.084,127.27 L351.723,127.28 L352.363,127.29 L353.003,127.30 L353.643,127.31 L354.283,127.31 L354.923,127.32 L355.562,127.33 L356.202,127.34 L356.842,127.34 L357.482,127.35 L358.122,127.36 L358.762,127.37 L359.402,127.37 L360.041,127.38 L360.681,127.39 L361.321,127.40 L361.961,127.40 L362.601,127.41 L363.241,127.42 L363.880,127.43 L364.520,127.43 L365.160,127.44 L365.800,127.45 L366.440,127.45 L367.080,127.46 L367.719,127.47 L368.359,127.48 L368.999,127.48 L369.639,127.49 L370.279,127.50 L370.919,127.50 L371.558,127.51 L372.198,127.52 L372.838,127.52 L373.478,127.53 L374.118,127.54 L374.758,127.54 L375.397,127.55 L376.037,127.56 L376.677,127.56 L377.317,127.57 L377.957,127.58 L378.597,127.58 L379.236,127.59 L379.876,127.60 L380.516,127.60 L381.156,127.61" stroke="#8FB032"/><path d="M15.067,160.27 L15.193,160.35 L15.319,160.42 L15.444,160.50 L15.570,160.57 L15.695,160.65 L15.821,160.72 L15.947,160.80 L16.072,160.88 L16.198,160.95 L16.324,161.03 L16.449,161.11 L16.575,161.19 L16.701,161.27 L16.826,161.35 L16.952,161.43 L17.078,161.51 L17.203,161.59 L17.329,161.67 L17.455,161.75 L17.580,161.83 L17.706,161.92 L17.831,162.00 L17.957,162.08 L18.083,162.17 L18.208,162.25 L18.334,162.33 L18.460,162.42 L18.585,162.51 L18.711,162.59 L18.837,162.68 L18.962,162.77 L19.088,162.85 L19.214,162.94 L19.339,163.03 L19.465,163.12 L19.590,163.21 L19.716,163.30 L19.842,163.39 L19.967,163.48 L20.093,163.57 L20.219,163.66 L20.344,163.75 L20.470,163.85 L20.596,163.94 L20.721,164.04 L20.847,164.13 L20.973,164.23 L21.098,164.32 L21.224,164.42 L21.349,164.51 L21.475,164.61 L21.601,164.71 L21.726,164.81 L21.852,164.91 L21.978,165.01 L22.103,165.11 L22.229,165.21 L22.355,165.31 L22.480,165.41 L22.606,165.51 L22.732,165.62 L22.857,165.72 L22.983,165.83 L23.108,165.93 L23.234,166.04 L23.360,166.14 L23.485,166.25 L23.611,166.36 L23.737,166.47 L23.862,166.58 L23.988,166.69 L24.114,166.80 L24.239,166.91 L24.365,167.02 L24.491,167.13 L24.616,167.24 L24.742,167.36 L24.868,167.47 L24.993,167.59 L25.119,167.70 L25.244,167.82 L25.370,167.94 L25.496,168.06 L25.621,168.18 L25.747,168.30 L25.873,168.42 L25.998,168.54 L26.124,168.66 L26.250,168.78 L26.375,168.91 L26.501,169.03 L26.627,169.16 L26.752,169.28 L26.878,169.41 L27.003,169.54 L27.129,169.67 L27.255,169.80 L27.380,169.93 L27.506,170.06 L27.632,170.19 L27.757,170.32 L27.883,170.46 L28.009,170.59 L28.134,170.73 L28.260,170.87 L28.386,171.00 L28.511,171.14 L28.637,171.28 L28.762,171.42 L28.888,171.57 L29.014,171.71 L29.139,171.85 L29.265,172.00 L29.391,172.14 L29.516,172.29 L29.642,172.44 L29.768,172.59 L29.893,172.74 L30.019,172.89 L30.145,173.04 L30.270,173.19 L30.396,173.35 L30.521,173.50 L30.647,173.66 L30.773,173.82 L30.898,173.98 L31.024,174.14 L31.150,174.30 L31.275,174.46 L31.401,174.62 L31.527,174.79 L31.652,174.95 L31.778,175.12 L31.904,175.29 L32.029,175.46 L32.155,175.63 L32.280,175.80 L32.406,175.98 L32.532,176.15 L32.657,176.33 L32.783,176.51 L32.909,176.69 L33.034,176.87 L33.160,177.05 L33.286,177.24 L33.411,177.42 L33.537,177.61 L33.663,177.80 L33.788,177.99 L33.914,178.18 L34.040,178.37 L34.165,178.57 L34.291,178.76 L34.416,178.96 L34.542,179.16 L34.668,179.36 L34.793,179.56 L34.919,179.77 L35.045,179.97 L35.170,180.18 L35.296,180.39 L35.422,180.60 L35.547,180.82 L35.673,181.03 L35.799,181.25 L35.924,181.47 L36.050,181.69 L36.175,181.91 L36.301,182.14 L36.427,182.36 L36.552,182.59 L36.678,182.82 L36.804,183.06 L36.929,183.29 L37.055,183.53 L37.181,183.77 L37.306,184.01 L37.432,184.25 L37.558,184.50 L37.683,184.75 L37.809,185.00 L37.934,185.25 L38.060,185.51 L38.186,185.77 L38.311,186.03 L38.437,186.29 L38.563,186.55 L38.688,186.82 L38.814,187.09 L38.940,187.36 L39.065,187.64 L39.191,187.92 L39.317,188.20 L39.442,188.48 L39.568,188.77 L39.693,189.06 L39.819,189.35 L39.945,189.65 L40.070,189.95 L40.196,190.25 L40.322,190.55 L40.447,190.86 L40.573,191.17 L40.699,191.48 L40.824,191.80 L40.950,192.12 L41.076,192.45 L41.201,192.77 L41.327,193.11 L41.452,193.44 L41.578,193.78 L41.704,194.12 L41.829,194.47 L41.955,194.82 L42.081,195.17 L42.206,195.53 L42.332,195.89 L42.458,196.25 L42.583,196.62 L42.709,197.00 L42.835,197.38 L42.960,197.76 L43.086,198.15 L43.212,198.54 L43.337,198.93 L43.463,199.33 L43.588,199.74 L43.714,200.15 L43.840,200.56 L43.965,200.98 L44.091,201.41 L44.217,201.84 L44.342,202.28 L44.468,202.72 L44.594,203.16 L44.719,203.62 L44.845,204.07 L44.971,204.54 L45.096,205.01 L45.222,205.48 L45.347,205.96 L45.473,206.45 L45.599,206.95 L45.724,207.45 L45.850,207.96 L45.976,208.47 L46.101,208.99 L46.227,209.52 L46.353,210.06 L46.478,210.60 L46.604,211.15 L46.730,211.71 L46.855,212.27 L46.981,212.85 L47.106,213.43 L47.232,214.02 L47.358,214.62 L47.483,215.23 L47.609,215.84 L47.735,216.47 L47.860,217.10 L47.986,217.75 L48.112,218.40 L48.237,219.07 L48.363,219.74 L48.489,220.42 L48.614,221.12 L48.740,221.83 L48.865,222.54 L48.991,223.27 L49.117,224.01 L49.242,224.76 L49.368,225.53 L49.494,226.31 L49.619,227.10 L49.745,227.90 L49.871,228.72 L49.996,229.55 L50.122,230.39 L50.248,231.25 L50.373,232.13 L50.499,233.02 L50.624,233.92 L50.750,234.84 L50.876,235.78 L51.001,236.74 L51.127,237.71 L51.253,238.70 L51.378,239.71 L51.504,240.74 L51.630,241.79 L51.755,242.86 L51.881,243.95 L52.007,245.06 L52.132,246.19 L52.258,247.35 L52.384,248.53 L52.509,249.73 L52.635,250.96" stroke="#EB6235"/><path d="M77.069,12.21 L77.678,17.83 L78.288,22.93 L78.897,27.60 L79.507,31.87 L80.116,35.81 L80.725,39.45 L81.335,42.82 L81.944,45.95 L82.554,48.86 L83.163,51.58 L83.772,54.13 L84.382,56.52 L84.991,58.76 L85.601,60.88 L86.210,62.87 L86.819,64.75 L87.429,66.53 L88.038,68.22 L88.647,69.82 L89.257,71.35 L89.866,72.79 L90.476,74.17 L91.085,75.49 L91.694,76.74 L92.304,77.94 L92.913,79.09 L93.523,80.19 L94.132,81.25 L94.741,82.26 L95.351,83.23 L95.960,84.16 L96.570,85.06 L97.179,85.92 L97.788,86.75 L98.398,87.55 L99.007,88.33 L99.617,89.07 L100.226,89.79 L100.835,90.49 L101.445,91.16 L102.054,91.81 L102.663,92.44 L103.273,93.05 L103.882,93.64 L104.492,94.21 L105.101,94.77 L105.710,95.31 L106.320,95.83 L106.929,96.34 L107.539,96.83 L108.148,97.31 L108.757,97.77 L109.367,98.23 L109.976,98.67 L110.586,99.10 L111.195,99.52 L111.804,99.92 L112.414,100.32 L113.023,100.71 L113.633,101.08 L114.242,101.45 L114.851,101.81 L115.461,102.16 L116.070,102.50 L116.680,102.84 L117.289,103.16 L117.898,103.48 L118.508,103.79 L119.117,104.10 L119.726,104.40 L120.336,104.69 L120.945,104.97 L121.555,105.25 L122.164,105.52 L122.773,105.79 L123.383,106.05 L123.992,106.31 L124.602,106.56 L125.211,106.81 L125.820,107.05 L126.430,107.28 L127.039,107.51 L127.649,107.74 L128.258,107.96 L128.867,108.18 L129.477,108.40 L130.086,108.61 L130.696,108.81 L131.305,109.02 L131.914,109.22 L132.524,109.41 L133.133,109.60 L133.743,109.79 L134.352,109.98 L134.961,110.16 L135.571,110.34 L136.180,110.51 L136.789,110.69 L137.399,110.86 L138.008,111.02 L138.618,111.19 L139.227,111.35 L139.836,111.51 L140.446,111.67 L141.055,111.82 L141.665,111.97 L142.274,112.12 L142.883,112.27 L143.493,112.41 L144.102,112.55 L144.712,112.69 L145.321,112.83 L145.930,112.97 L146.540,113.10 L147.149,113.23 L147.759,113.36 L148.368,113.49 L148.977,113.62 L149.587,113.74 L150.196,113.87 L150.806,113.99 L151.415,114.11 L152.024,114.22 L152.634,114.34 L153.243,114.45 L153.852,114.57 L154.462,114.68 L155.071,114.79 L155.681,114.90 L156.290,115.00 L156.899,115.11 L157.509,115.21 L158.118,115.31 L158.728,115.42 L159.337,115.52 L159.946,115.61 L160.556,115.71 L161.165,115.81 L161.775,115.90 L162.384,116.00 L162.993,116.09 L163.603,116.18 L164.212,116.27 L164.822,116.36 L165.431,116.45 L166.040,116.54 L166.650,116.62 L167.259,116.71 L167.869,116.79 L168.478,116.88 L169.087,116.96 L169.697,117.04 L170.306,117.12 L170.915,117.20 L171.525,117.28 L172.134,117.35 L172.744,117.43 L173.353,117.51 L173.962,117.58 L174.572,117.66 L175.181,117.73 L175.791,117.80 L176.400,117.87 L177.009,117.95 L177.619,118.02 L178.228,118.08 L178.838,118.15 L179.447,118.22 L180.056,118.29 L180.666,118.36 L181.275,118.42 L181.885,118.49 L182.494,118.55 L183.103,118.61 L183.713,118.68 L184.322,118.74 L184.932,118.80 L185.541,118.86 L186.150,118.92 L186.760,118.98 L187.369,119.04 L187.978,119.10 L188.588,119.16 L189.197,119.22 L189.807,119.28 L190.416,119.33 L191.025,119.39 L191.635,119.44 L192.244,119.50 L192.854,119.55 L193.463,119.61 L194.072,119.66 L194.682,119.71 L195.291,119.77 L195.901,119.82 L196.510,119.87 L197.119,119.92 L197.729,119.97 L198.338,120.02 L198.948,120.07 L199.557,120.12 L200.166,120.17 L200.776,120.22 L201.385,120.26 L201.994,120.31 L202.604,120.36 L203.213,120.40 L203.823,120.45 L204.432,120.50 L205.041,120.54 L205.651,120.59 L206.260,120.63 L206.870,120.68 L207.479,120.72 L208.088,120.76 L208.698,120.81 L209.307,120.85 L209.917,120.89 L210.526,120.93 L211.135,120.98 L211.745,121.02 L212.354,121.06 L212.964,121.10 L213.573,121.14 L214.182,121.18 L214.792,121.22 L215.401,121.26 L216.011,121.30 L216.620,121.34 L217.229,121.37 L217.839,121.41 L218.448,121.45 L219.057,121.49 L219.667,121.52 L220.276,121.56 L220.886,121.60 L221.495,121.63 L222.104,121.67 L222.714,121.71 L223.323,121.74 L223.933,121.78 L224.542,121.81 L225.151,121.85 L225.761,121.88 L226.370,121.91 L226.980,121.95 L227.589,121.98 L228.198,122.02 L228.808,122.05 L229.417,122.08 L230.027,122.11 L230.636,122.15 L231.245,122.18 L231.855,122.21 L232.464,122.24 L233.074,122.27 L233.683,122.31 L234.292,122.34 L234.902,122.37 L235.511,122.40 L236.120,122.43 L236.730,122.46 L237.339,122.49 L237.949,122.52 L238.558,122.55 L239.167,122.58 L239.777,122.61 L240.386,122.64 L240.996,122.66 L241.605,122.69 L242.214,122.72 L242.824,122.75 L243.433,122.78 L244.043,122.80 L244.652,122.83 L245.261,122.86 L245.871,122.89 L246.480,122.91 L247.090,122.94 L247.699,122.97 L248.308,122.99 L248.918,123.02 L249.527,123.05 L250.137,123.07 L250.746,123.10 L251.355,123.12 L251.965,123.15 L252.574,123.17 L253.183,123.20 L253.793,123.22 L254.402,123.25 L255.012,123.27 L255.621,123.30 L256.230,123.32 L256.840,123.35 L257.449,123.37 L258.059,123.39 L258.668,123.42 L259.277,123.44 L259.887,123.47 L260.496,123.49 L261.106,123.51 L261.715,123.53 L262.324,123.56 L262.934,123.58 L263.543,123.60 L264.153,123.63 L264.762,123.65 L265.371,123.67 L265.981,123.69 L266.590,123.71 L267.200,123.74 L267.809,123.76 L268.418,123.78 L269.028,123.80 L269.637,123.82 L270.246,123.84 L270.856,123.86 L271.465,123.88 L272.075,123.90 L272.684,123.93 L273.293,123.95 L273.903,123.97 L274.512,123.99 L275.122,124.01 L275.731,124.03 L276.340,124.05 L276.950,124.07 L277.559,124.09 L278.169,124.11 L278.778,124.13 L279.387,124.14 L279.997,124.16 L280.606,124.18 L281.216,124.20 L281.825,124.22 L282.434,124.24 L283.044,124.26 L283.653,124.28 L284.263,124.30 L284.872,124.31 L285.481,124.33 L286.091,124.35 L286.700,124.37 L287.309,124.39 L287.919,124.40 L288.528,124.42 L289.138,124.44 L289.747,124.46 L290.356,124.47 L290.966,124.49 L291.575,124.51 L292.185,124.53 L292.794,124.54 L293.403,124.56 L294.013,124.58 L294.622,124.59 L295.232,124.61 L295.841,124.63 L296.450,124.64 L297.060,124.66 L297.669,124.68 L298.279,124.69 L298.888,124.71 L299.497,124.73 L300.107,124.74 L300.716,124.76 L301.325,124.77 L301.935,124.79 L302.544,124.81 L303.154,124.82 L303.763,124.84 L304.372,124.85 L304.982,124.87 L305.591,124.88 L306.201,124.90 L306.810,124.91 L307.419,124.93 L308.029,124.94 L308.638,124.96 L309.248,124.97 L309.857,124.99 L310.466,125.00 L311.076,125.02 L311.685,125.03 L312.295,125.05 L312.904,125.06 L313.513,125.08 L314.123,125.09 L314.732,125.11 L315.342,125.12 L315.951,125.13 L316.560,125.15 L317.170,125.16 L317.779,125.18 L318.388,125.19 L318.998,125.20 L319.607,125.22 L320.217,125.23 L320.826,125.24 L321.435,125.26 L322.045,125.27 L322.654,125.28 L323.264,125.30 L323.873,125.31 L324.482,125.32 L325.092,125.34 L325.701,125.35 L326.311,125.36 L326.920,125.38 L327.529,125.39 L328.139,125.40 L328.748,125.42 L329.358,125.43 L329.967,125.44 L330.576,125.45 L331.186,125.47 L331.795,125.48 L332.405,125.49 L333.014,125.50 L333.623,125.52 L334.233,125.53 L334.842,125.54 L335.451,125.55 L336.061,125.56 L336.670,125.58 L337.280,125.59 L337.889,125.60 L338.498,125.61 L339.108,125.62 L339.717,125.64 L340.327,125.65 L340.936,125.66 L341.545,125.67 L342.155,125.68 L342.764,125.69 L343.374,125.71 L343.983,125.72 L344.592,125.73 L345.202,125.74 L345.811,125.75 L346.421,125.76 L347.030,125.77 L347.639,125.78 L348.249,125.80 L348.858,125.81 L349.468,125.82 L350.077,125.83 L350.686,125.84 L351.296,125.85 L351.905,125.86 L352.514,125.87 L353.124,125.88 L353.733,125.89 L354.343,125.90 L354.952,125.91 L355.561,125.92 L356.171,125.94 L356.780,125.95 L357.390,125.96 L357.999,125.97 L358.608,125.98 L359.218,125.99 L359.827,126.00 L360.437,126.01 L361.046,126.02 L361.655,126.03 L362.265,126.04 L362.874,126.05 L363.484,126.06 L364.093,126.07 L364.702,126.08 L365.312,126.09 L365.921,126.10 L366.531,126.11 L367.140,126.12 L367.749,126.13 L368.359,126.14 L368.968,126.15 L369.577,126.16 L370.187,126.16 L370.796,126.17 L371.406,126.18 L372.015,126.19 L372.624,126.20 L373.234,126.21 L373.843,126.22 L374.453,126.23 L375.062,126.24 L375.671,126.25 L376.281,126.26 L376.890,126.27 L377.500,126.28 L378.109,126.29 L378.718,126.29 L379.328,126.30 L379.937,126.31 L380.547,126.32 L381.156,126.33" stroke="#EB6235"/><path d="M15.067,161.02 L381.156,161.02" stroke="#8778B3"/></g>
</svg></body></html>
